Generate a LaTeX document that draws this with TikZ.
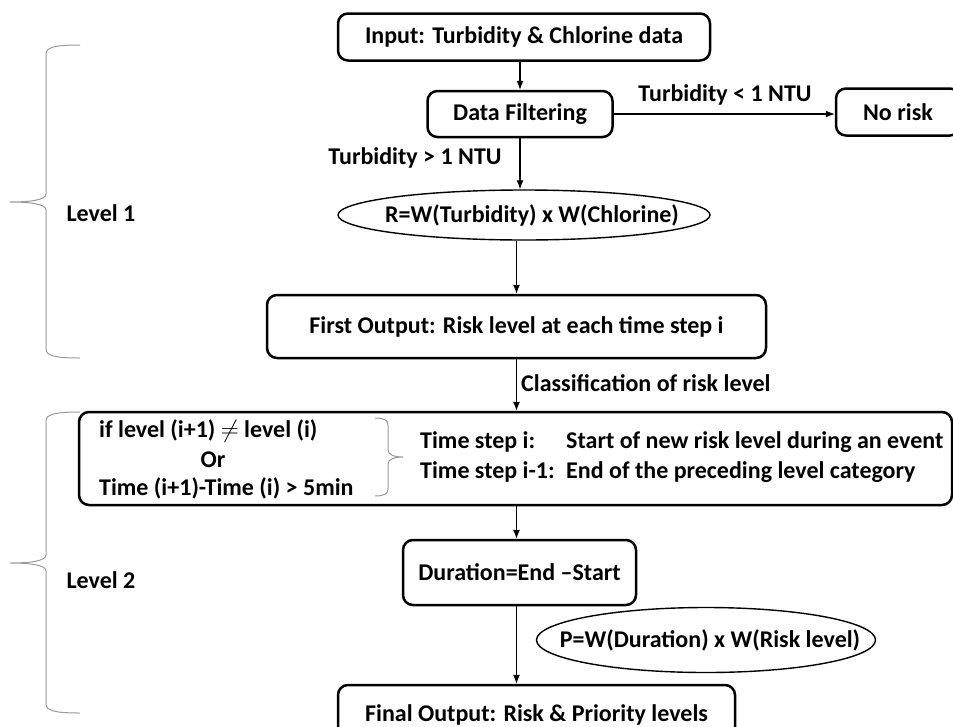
\documentclass[tikz,border=0pt]{standalone}
\usepackage{fontspec}
\setmainfont{Carlito}
\usetikzlibrary{arrows.meta,shapes.geometric}

\tikzset{
  box/.style={draw, line width=2.5pt, rounded corners=10pt, inner sep=0pt},
  oval/.style={draw, ellipse, line width=1.4pt, inner sep=0pt},
  txt/.style={inner sep=0pt},
  arr/.style={line width=1.1pt, -{Latex[length=9pt,width=7pt]}},
  brc/.style={draw=gray!80, line width=1pt},
}

\begin{document}
\begin{tikzpicture}[x=1pt, y=-1pt, every node/.style={font=\fontsize{24}{29}\selectfont\bfseries}]
      \useasboundingbox (0,0) rectangle (953,726);
      % level 1
      \node[box, minimum width=372pt, minimum height=47pt] (input) at (524,37) {Input: Turbidity \& Chlorine data};
      \node[box, minimum width=185pt, minimum height=46pt] (filter) at (520,114) {Data Filtering};
      \node[box, minimum width=124pt, minimum height=47pt] (norisk) at (898,112) {No risk};
      \node[txt] (lt) at (725,95) {Turbidity < 1 NTU};
      \node[txt] (gt) at (415,158) {Turbidity > 1 NTU};
      \node[oval, minimum width=372pt, minimum height=50pt] (rell) at (524,215) {};
      \node[txt] (rtxt) at (532,215) {R=W(Turbidity) x W(Chlorine)};
      \node[box, minimum width=499pt, minimum height=63pt] (first) at (516.5,326.5) {First Output: Risk level at each time step i};
      \node[txt, anchor=west] (cls) at (521,383) {Classification of risk level};
      % level 2
      \node[box, minimum width=873pt, minimum height=93pt] (cond) at (515.5,458.5) {};
      \node[txt, anchor=west] (c1) at (99,431) {if level (i+1) $\neq$ level (i)};
      \node[txt] (cor) at (213,460) {Or};
      \node[txt, anchor=west] (c3) at (99,488) {Time (i+1)-Time (i) > 5min};
      \node[txt, anchor=west] (ts1) at (420,442) {Time step i:};
      \node[txt, anchor=west] (st1) at (566,442) {Start of new risk level during an event};
      \node[txt, anchor=west] (ts2) at (420,472) {Time step i-1:};
      \node[txt, anchor=west] (st2) at (566,472) {End of the preceding level category};
      \node[box, minimum width=233pt, minimum height=65pt] (dur) at (519.5,572.5) {Duration=End --Start};
      \node[oval, minimum width=339pt, minimum height=65pt] (pell) at (706,640) {};
      \node[txt] (ptxt) at (710,640) {P=W(Duration) x W(Risk level)};
      \node[box, minimum width=397pt, minimum height=60pt] (final) at (536.5,715) {Final Output: Risk \& Priority levels};
      \node[txt] (lev1) at (101,213) {Level 1};
      \node[txt] (lev2) at (101,580) {Level 2};
      % connectors
      \draw[arr] (filter.north |- input.south) -- (filter.north);
      \draw[arr] (filter.east) -- (filter.east -| norisk.west);
      \draw[arr] (filter.south) -- (filter.south |- rell.north);
      \draw[arr] (first.north |- rell.south) -- (first.north);
      \draw[arr] (first.south) -- (first.south |- cond.north);
      \draw[arr] (first.south |- cond.south) -- (first.south |- dur.north);
      \draw[arr] (first.south |- dur.south) -- (first.south |- final.north);
      % braces
      \foreach \t/\m/\b in {45/202/358, 412/563/713}
        \draw[brc] (80,\t) .. controls (56,\t) and (46,\t+2) .. (46,\t+9) -- (46,\m-8)
          .. controls (46,\m-2) and (30,\m) .. (10,\m) .. controls (30,\m) and (46,\m+2) .. (46,\m+8)
          -- (46,\b-9) .. controls (46,\b-2) and (56,\b) .. (80,\b);
      \draw[brc] (375,418) .. controls (384,418) and (388,420) .. (388,425) -- (388,450)
        .. controls (388,455) and (395,457) .. (403,457) .. controls (395,457) and (388,459) .. (388,464)
        -- (388,489) .. controls (388,494) and (384,496) .. (375,496);
\end{tikzpicture}
\end{document}
